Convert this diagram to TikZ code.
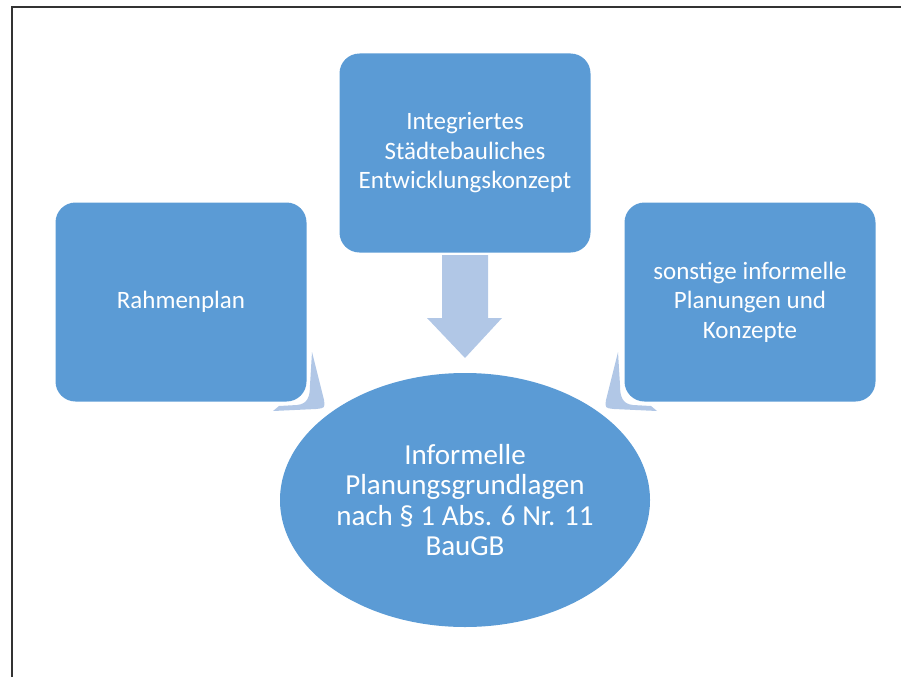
\documentclass[tikz,border=0pt]{standalone}
\usepackage{fontspec}
\setmainfont{Carlito}
\usetikzlibrary{shapes.geometric}
\definecolor{boxblue}{HTML}{5B9BD5}
\definecolor{arrblue}{HTML}{B1C7E6}
\definecolor{frame}{HTML}{333333}
\begin{document}
\begin{tikzpicture}[x=1pt,y=-1pt,
  box/.style={fill=boxblue, rounded corners=20pt, minimum width=251pt, minimum height=199pt,
    inner sep=0pt, text=white, align=center, font=\fontsize{25}{29.5}\selectfont},
  ell/.style={ellipse, fill=boxblue, minimum width=370pt, minimum height=254pt, inner sep=0pt,
    text=white, align=center, font=\fontsize{29}{30.5}\selectfont},
  arr/.style={fill=arrblue}]
\useasboundingbox (0,0) rectangle (901,677);
\draw[frame, line width=2.6pt] (12,677) -- (12,7) -- (901,7);
% nodes
\node[box] (rahmen) at (181,302) {Rahmenplan};
\node[box] (isek) at (465,153) {Integriertes\\Städtebauliches\\Entwicklungskonzept};
\node[box] (sonst) at (750,302) {sonstige informelle\\Planungen und\\Konzepte};
\node[ell] (info) at (465,500) {Informelle\\Planungsgrundlagen\\nach § 1 Abs. 6 Nr. 11\\BauGB};
% down arrow
\fill[arr] (442,255) -- (488,255) -- (488,318) -- (502,318) -- (465,358) -- (427,318) -- (442,318) -- cycle;
% left curved arrow
\fill[arr] (312,352) -- (324,400) .. controls (325,408) .. (316,409) -- (273,411) -- (279,406)
  -- (297,405) .. controls (308,404) and (310,396) .. (310,385) -- cycle;
% right curved arrow
\fill[arr] (618,352) -- (606,400) .. controls (605,408) .. (614,409) -- (657,411) -- (651,406)
  -- (633,405) .. controls (622,404) and (620,396) .. (620,385) -- cycle;
\end{tikzpicture}
\end{document}
